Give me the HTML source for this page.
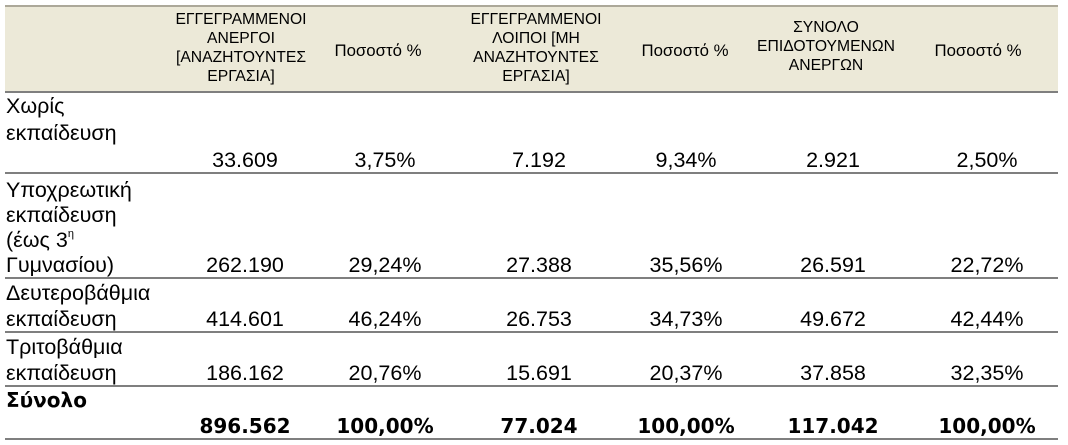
<!DOCTYPE html>
<html>
<head>
<meta charset="utf-8">
<style>
html,body{margin:0;padding:0;background:#fff;}
body{width:1068px;height:445px;position:relative;overflow:hidden;font-family:"Liberation Sans","DejaVu Sans",sans-serif;color:#000;}
.hdr{position:absolute;left:5px;top:5px;width:1053px;height:87px;background:#ece9d8;}
.topb{position:absolute;left:5px;top:5px;width:1053px;height:2px;background:#aca899;}
.ln{position:absolute;left:5px;width:1053px;height:2px;background:#7f7f7f;}
.h{position:absolute;width:220px;text-align:center;font-size:15.7px;line-height:19px;white-space:nowrap;}
.p{font-size:16.8px;}
.l{position:absolute;left:6px;font-size:21.5px;line-height:26px;height:26px;white-space:nowrap;}
.c{position:absolute;width:200px;text-align:center;font-size:21.5px;line-height:26px;height:26px;white-space:nowrap;}
.b{font-family:"DejaVu Sans","Liberation Sans",sans-serif;font-weight:bold;font-size:20px;}
sup{font-size:11px;vertical-align:10px;line-height:0;}
</style>
</head>
<body>
<div class="hdr"></div>
<div class="topb"></div>

<!-- header texts -->
<div class="h" style="left:131px;top:10px;">ΕΓΓΕΓΡΑΜΜΕΝΟΙ<br>ΑΝΕΡΓΟΙ<br>[ΑΝΑΖΗΤΟΥΝΤΕΣ<br>ΕΡΓΑΣΙΑ]</div>
<div class="h p" style="left:268px;top:41px;">Ποσοστό %</div>
<div class="h" style="left:426px;top:10px;">ΕΓΓΕΓΡΑΜΜΕΝΟΙ<br>ΛΟΙΠΟΙ [ΜΗ<br>ΑΝΑΖΗΤΟΥΝΤΕΣ<br>ΕΡΓΑΣΙΑ]</div>
<div class="h p" style="left:575px;top:41px;">Ποσοστό %</div>
<div class="h" style="left:716px;top:18px;">ΣΥΝΟΛΟ<br>ΕΠΙΔΟΤΟΥΜΕΝΩΝ<br>ΑΝΕΡΓΩΝ</div>
<div class="h p" style="left:868px;top:41px;">Ποσοστό %</div>

<!-- lines -->
<div class="ln" style="top:91px;"></div>
<div class="ln" style="top:172px;"></div>
<div class="ln" style="top:277px;"></div>
<div class="ln" style="top:331px;"></div>
<div class="ln" style="top:385px;"></div>
<div class="ln" style="top:438px;"></div>

<!-- row 1 -->
<div class="l" style="top:93px;">Χωρίς</div>
<div class="l" style="top:120px;">εκπαίδευση</div>
<div class="c" style="left:145px;top:147px;">33.609</div>
<div class="c" style="left:285px;top:147px;">3,75%</div>
<div class="c" style="left:439px;top:147px;">7.192</div>
<div class="c" style="left:586px;top:147px;">9,34%</div>
<div class="c" style="left:733px;top:147px;">2.921</div>
<div class="c" style="left:887px;top:147px;">2,50%</div>

<!-- row 2 -->
<div class="l" style="top:177px;">Υποχρεωτική</div>
<div class="l" style="top:202px;">εκπαίδευση</div>
<div class="l" style="top:227px;">(έως 3<sup>η</sup></div>
<div class="l" style="top:252px;">Γυμνασίου)</div>
<div class="c" style="left:145px;top:252px;">262.190</div>
<div class="c" style="left:285px;top:252px;">29,24%</div>
<div class="c" style="left:439px;top:252px;">27.388</div>
<div class="c" style="left:586px;top:252px;">35,56%</div>
<div class="c" style="left:733px;top:252px;">26.591</div>
<div class="c" style="left:887px;top:252px;">22,72%</div>

<!-- row 3 -->
<div class="l" style="top:280px;">Δευτεροβάθμια</div>
<div class="l" style="top:306px;">εκπαίδευση</div>
<div class="c" style="left:145px;top:306px;">414.601</div>
<div class="c" style="left:285px;top:306px;">46,24%</div>
<div class="c" style="left:439px;top:306px;">26.753</div>
<div class="c" style="left:586px;top:306px;">34,73%</div>
<div class="c" style="left:733px;top:306px;">49.672</div>
<div class="c" style="left:887px;top:306px;">42,44%</div>

<!-- row 4 -->
<div class="l" style="top:334px;">Τριτοβάθμια</div>
<div class="l" style="top:360px;">εκπαίδευση</div>
<div class="c" style="left:145px;top:360px;">186.162</div>
<div class="c" style="left:285px;top:360px;">20,76%</div>
<div class="c" style="left:439px;top:360px;">15.691</div>
<div class="c" style="left:586px;top:360px;">20,37%</div>
<div class="c" style="left:733px;top:360px;">37.858</div>
<div class="c" style="left:887px;top:360px;">32,35%</div>

<!-- row 5 -->
<div class="l b" style="top:387px;">Σύνολο</div>
<div class="c b" style="left:145px;top:413px;">896.562</div>
<div class="c b" style="left:285px;top:413px;">100,00%</div>
<div class="c b" style="left:439px;top:413px;">77.024</div>
<div class="c b" style="left:586px;top:413px;">100,00%</div>
<div class="c b" style="left:733px;top:413px;">117.042</div>
<div class="c b" style="left:887px;top:413px;">100,00%</div>
</body>
</html>
